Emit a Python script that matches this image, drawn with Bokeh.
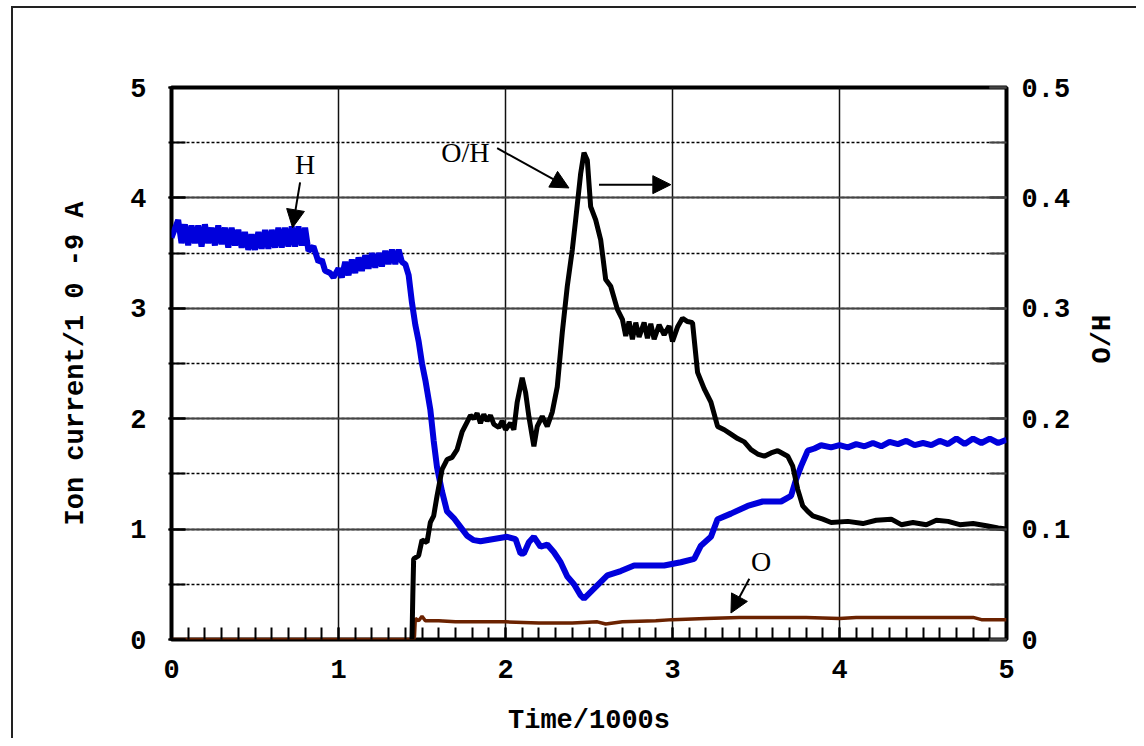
import math
from bokeh.plotting import figure
from bokeh.models import (Range1d, LinearAxis, SingleIntervalTicker, Arrow, NormalHead,
                          Label, CustomJSTickFormatter)
from bokeh.embed import file_html
from bokeh.resources import INLINE

# ---------------- data ----------------
# H ion current (left axis, 1e-9 A) vs time (1000 s)
h_points = [
    (0.00, 3.64), (0.02, 3.72), (0.04, 3.80), (0.06, 3.59), (0.08, 3.76), (0.10, 3.57),
    (0.12, 3.75), (0.14, 3.59), (0.16, 3.75), (0.18, 3.56), (0.20, 3.76), (0.22, 3.59),
    (0.24, 3.73), (0.26, 3.57), (0.28, 3.75), (0.30, 3.58), (0.32, 3.73), (0.34, 3.55),
    (0.36, 3.73), (0.38, 3.57), (0.40, 3.71), (0.42, 3.55), (0.44, 3.69), (0.46, 3.53),
    (0.48, 3.67), (0.50, 3.53), (0.52, 3.69), (0.54, 3.54), (0.56, 3.71), (0.58, 3.54),
    (0.60, 3.71), (0.62, 3.55), (0.64, 3.73), (0.66, 3.55), (0.68, 3.73), (0.70, 3.56),
    (0.72, 3.74), (0.74, 3.56), (0.76, 3.74), (0.78, 3.57), (0.80, 3.73), (0.82, 3.52),
    (0.85, 3.56), (0.88, 3.42), (0.90, 3.44), (0.92, 3.34), (0.95, 3.32), (0.97, 3.28),
    (1.00, 3.36), (1.02, 3.28), (1.04, 3.42), (1.06, 3.30), (1.08, 3.44), (1.10, 3.32),
    (1.12, 3.46), (1.14, 3.34), (1.16, 3.48), (1.18, 3.36), (1.20, 3.50), (1.22, 3.37),
    (1.24, 3.50), (1.26, 3.38), (1.28, 3.52), (1.30, 3.40), (1.32, 3.53), (1.34, 3.40),
    (1.36, 3.53), (1.38, 3.42), (1.40, 3.40), (1.42, 3.30), (1.44, 3.05), (1.46, 2.85),
    (1.48, 2.70), (1.50, 2.50), (1.52, 2.35), (1.55, 2.08), (1.57, 1.80), (1.59, 1.56),
    (1.62, 1.34), (1.65, 1.16), (1.69, 1.10), (1.73, 1.02), (1.77, 0.94), (1.81, 0.90),
    (1.85, 0.89), (1.93, 0.91), (2.01, 0.93), (2.06, 0.91), (2.09, 0.78), (2.11, 0.78),
    (2.14, 0.88), (2.17, 0.93), (2.21, 0.84), (2.25, 0.86), (2.29, 0.79), (2.33, 0.70),
    (2.37, 0.57), (2.41, 0.50), (2.45, 0.40), (2.47, 0.37), (2.53, 0.46), (2.61, 0.58),
    (2.69, 0.62), (2.77, 0.67), (2.85, 0.67), (2.95, 0.67), (3.05, 0.70), (3.13, 0.73),
    (3.17, 0.85), (3.23, 0.93), (3.27, 1.09), (3.35, 1.14), (3.45, 1.21), (3.54, 1.25),
    (3.65, 1.25), (3.71, 1.30), (3.74, 1.45), (3.77, 1.57), (3.81, 1.71), (3.85, 1.73),
    (3.89, 1.76), (3.95, 1.74), (4.00, 1.76), (4.05, 1.74), (4.10, 1.77), (4.15, 1.75),
    (4.20, 1.78), (4.25, 1.75), (4.30, 1.79), (4.35, 1.77), (4.40, 1.80), (4.45, 1.76),
    (4.50, 1.78), (4.55, 1.76), (4.60, 1.80), (4.65, 1.77), (4.70, 1.82), (4.75, 1.77),
    (4.80, 1.82), (4.85, 1.78), (4.90, 1.82), (4.95, 1.78), (5.00, 1.81),
]

# O/H ratio (right axis)
oh_points = [
    (1.44, 0.000), (1.445, 0.040), (1.45, 0.073), (1.48, 0.076), (1.50, 0.090), (1.53, 0.088),
    (1.55, 0.106), (1.57, 0.112), (1.59, 0.130), (1.62, 0.154), (1.65, 0.163), (1.68, 0.165),
    (1.71, 0.172), (1.74, 0.188), (1.77, 0.197), (1.79, 0.203), (1.81, 0.200), (1.83, 0.205),
    (1.85, 0.196), (1.87, 0.204), (1.89, 0.198), (1.91, 0.203), (1.93, 0.195), (1.96, 0.192),
    (1.98, 0.198), (2.00, 0.190), (2.03, 0.196), (2.05, 0.190), (2.07, 0.215), (2.10, 0.237),
    (2.12, 0.224), (2.14, 0.202), (2.17, 0.175), (2.19, 0.193), (2.22, 0.202), (2.25, 0.193),
    (2.28, 0.206), (2.31, 0.229), (2.34, 0.278), (2.37, 0.320), (2.40, 0.353), (2.42, 0.380),
    (2.45, 0.422), (2.47, 0.441), (2.49, 0.434), (2.51, 0.392), (2.54, 0.380), (2.57, 0.362),
    (2.60, 0.326), (2.63, 0.320), (2.67, 0.299), (2.70, 0.290), (2.72, 0.275), (2.74, 0.288),
    (2.76, 0.272), (2.78, 0.287), (2.80, 0.274), (2.83, 0.287), (2.85, 0.273), (2.87, 0.286),
    (2.89, 0.272), (2.92, 0.285), (2.95, 0.276), (2.98, 0.284), (3.00, 0.270), (3.03, 0.283),
    (3.06, 0.291), (3.09, 0.288), (3.12, 0.287), (3.15, 0.242), (3.19, 0.227), (3.23, 0.215),
    (3.27, 0.193), (3.31, 0.190), (3.35, 0.186), (3.39, 0.182), (3.43, 0.179), (3.47, 0.172),
    (3.51, 0.168), (3.55, 0.166), (3.59, 0.169), (3.63, 0.171), (3.69, 0.166), (3.72, 0.157),
    (3.75, 0.136), (3.78, 0.121), (3.81, 0.116), (3.84, 0.112), (3.90, 0.109), (3.95, 0.106),
    (4.05, 0.107), (4.14, 0.105), (4.22, 0.108), (4.31, 0.109), (4.37, 0.104), (4.44, 0.106),
    (4.52, 0.104), (4.58, 0.108), (4.65, 0.107), (4.72, 0.104), (4.80, 0.105), (4.88, 0.103),
    (4.95, 0.101), (5.00, 0.100),
]

# O ion current (left axis)
o_points = [
    (0.00, 0.00), (1.45, 0.00), (1.455, 0.03), (1.46, 0.19), (1.48, 0.17), (1.50, 0.21),
    (1.52, 0.17), (1.60, 0.17), (1.70, 0.16), (1.80, 0.16), (2.00, 0.16), (2.20, 0.15),
    (2.40, 0.15), (2.55, 0.16), (2.60, 0.14), (2.70, 0.16), (2.90, 0.17), (3.00, 0.18),
    (3.20, 0.19), (3.40, 0.20), (3.60, 0.20), (3.80, 0.20), (4.00, 0.19), (4.10, 0.20),
    (4.50, 0.20), (4.80, 0.20), (4.85, 0.18), (5.00, 0.18),
]

x_label = "Time/1000s"
y_label = "Ion current/1 0 -9 A"
y2_label = "O/H"
series_labels = ["H", "O/H", "O"]

# ---------------- figure ----------------
TICK_FONT = "Liberation Mono"
SERIF = "Liberation Serif"

p = figure(width=1136, height=738, x_range=Range1d(0, 5), y_range=Range1d(0, 5),
           output_backend="svg", toolbar_location=None,
           min_border_left=171, min_border_right=130, min_border_top=87, min_border_bottom=97)
p.extra_y_ranges = {"oh": Range1d(0, 0.5)}
p.background_fill_color = "white"
p.border_fill_color = None
p.outline_line_color = "black"
p.outline_line_width = 4
# outer frame of the original figure (left and top edges only)
p.styles = {"background-color": "white",
            "box-shadow": "inset 11px 6px 0 0 white, inset 13px 8px 0 0 #222222"}

# bottom axis
xa = p.xaxis[0]
xa.ticker = SingleIntervalTicker(interval=1, num_minor_ticks=10)
xa.axis_label = x_label
xa.major_tick_in = 12
xa.major_tick_out = 0
xa.minor_tick_in = 12
xa.minor_tick_out = 0

# left axis
ya = p.yaxis[0]
ya.ticker = SingleIntervalTicker(interval=1, num_minor_ticks=2)
ya.axis_label = y_label
ya.major_tick_in = 14
ya.major_tick_out = 3
ya.minor_tick_in = 14
ya.minor_tick_out = 3

# right axis
y2 = LinearAxis(y_range_name="oh", axis_label=y2_label,
                ticker=SingleIntervalTicker(interval=0.1, num_minor_ticks=2),
                formatter=CustomJSTickFormatter(code="return Math.abs(tick) < 1e-9 ? '0' : tick.toFixed(1);"))
y2.major_tick_in = 17
y2.major_tick_out = 0
y2.minor_tick_in = 17
y2.minor_tick_out = 0
y2.axis_label_orientation = math.pi / 2
p.add_layout(y2, "right")

for ax in (xa, ya, y2):
    ax.axis_line_color = None
    ax.major_tick_line_color = "black"
    ax.minor_tick_line_color = "black"
    ax.major_tick_line_width = 2
    ax.minor_tick_line_width = 2
    ax.major_label_text_font = TICK_FONT
    ax.major_label_text_font_style = "bold"
    ax.major_label_text_font_size = "27px"
    ax.major_label_text_color = "black"
    ax.axis_label_text_font = TICK_FONT
    ax.axis_label_text_font_style = "bold"
    ax.axis_label_text_font_size = "27px"
    ax.axis_label_text_color = "black"

y2.major_tick_line_color = "#444"
y2.minor_tick_line_color = "#444"

xa.major_label_standoff = 20
xa.axis_label_standoff = 25
ya.major_label_standoff = 22
ya.axis_label_standoff = 36
y2.major_label_standoff = 15
y2.axis_label_standoff = 30

# grids
p.xgrid.ticker = SingleIntervalTicker(interval=1)
p.xgrid.grid_line_color = "#111111"
p.xgrid.grid_line_width = 1.5
p.ygrid.ticker = SingleIntervalTicker(interval=1, num_minor_ticks=2)
p.ygrid.grid_line_color = "#444444"
p.ygrid.grid_line_width = 2
p.ygrid.minor_grid_line_color = "black"
p.ygrid.minor_grid_line_width = 1.5
p.ygrid.minor_grid_line_dash = "3 2"

# series
hx, hy = zip(*h_points)
ohx, ohy = zip(*oh_points)
ox, oy = zip(*o_points)

p.line(x=list(hx), y=list(hy), line_color="#0000dc", line_width=6)
p.line(x=list(ox), y=list(oy), line_color="#6b2200", line_width=3.5)
p.line(x=list(ohx), y=list(ohy), line_color="black", line_width=5, y_range_name="oh")

# annotations: labels and arrows
def lab(x, y, t):
    p.add_layout(Label(x=x, y=y, text=t, text_font=SERIF, text_font_size="28px",
                       text_align="center", text_baseline="middle", text_color="black"))

lab(0.80, 4.30, series_labels[0])
lab(1.76, 4.41, series_labels[1])
lab(3.53, 0.71, series_labels[2])

def arr(x0, y0, x1, y1):
    p.add_layout(Arrow(end=NormalHead(size=18, fill_color="black", line_color="black"),
                       x_start=x0, y_start=y0, x_end=x1, y_end=y1,
                       line_color="black", line_width=2))

arr(0.77, 4.14, 0.725, 3.73)
arr(1.95, 4.45, 2.38, 4.09)
arr(2.56, 4.12, 2.99, 4.12)
arr(3.46, 0.55, 3.35, 0.24)

open("out.html", "w").write(file_html(p, INLINE))
